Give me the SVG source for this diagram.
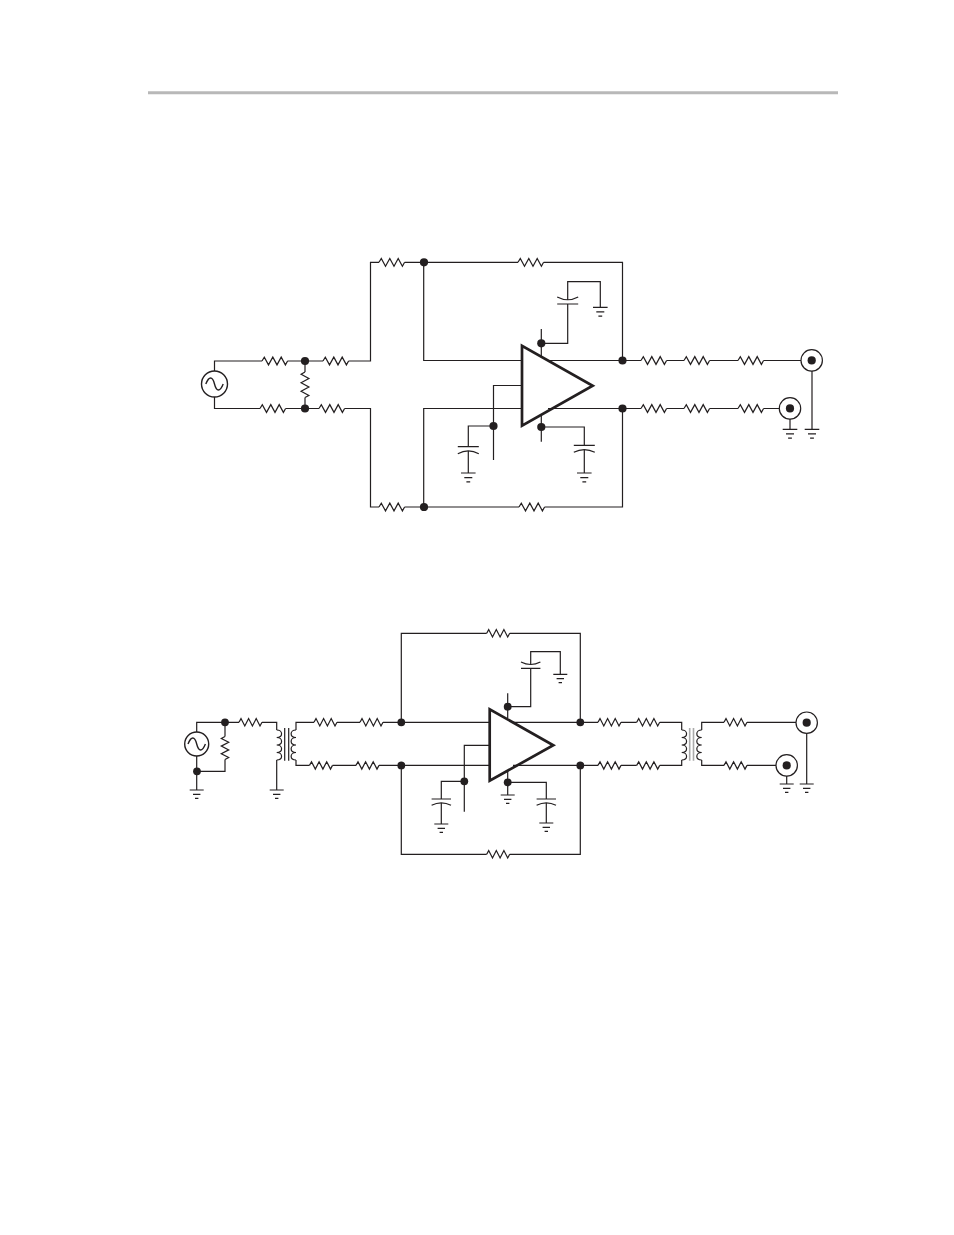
<svg xmlns="http://www.w3.org/2000/svg" width="954" height="1235" viewBox="0 0 954 1235">
<style>
.w,.s{fill:none;stroke:#231f20;stroke-width:1.2;stroke-linejoin:miter}
.amp{fill:none;stroke:#231f20;stroke-width:2.7;stroke-linejoin:miter}
.t{fill:none;stroke:#231f20;stroke-width:1.4}
.d{fill:#231f20;stroke:none}
.g{fill:none;stroke:#aaaaaa;stroke-width:1.6}
</style>
<defs>
<path id="rh" class="s" d="M0 0L2.3-3.9 6.5 3.9 10.8-3.9 15 3.9 19.2-3.9 23.4 3.9 25.6 0"/>
<path id="rh2" class="s" d="M0 0L2-3.7 5.8 3.7 9.6-3.7 13.4 3.7 17.2-3.7 21 3.7 23 0"/>
<path id="rv2" class="s" d="M0 0L-3.7 2 3.7 5.8-3.7 9.6 3.7 13.4-3.7 17.2 3.7 21 0 23"/>
<path id="rv" class="s" d="M0 0L-3.9 2.3 3.9 6.5-3.9 10.8 3.9 15-3.9 19.2 3.9 23.4 0 25.6"/>
<g id="gnd"><path class="s" d="M-7.3 0H7.3M-4 4.6H4M-1.9 8.9H1.9"/></g>
<g id="gnd2"><path class="s" d="M-7 0H7M-3.7 4.3H3.7M-1.7 8.3H1.7"/></g>
<g id="capU"><path class="s" d="M-10.5 0H10.5M-10.5 7Q0 1.5 10.5 7"/></g>
<g id="capD"><path class="s" d="M-10.5 0H10.5M-10.5-7Q0-1.5 10.5-7"/></g>
<g id="capU2"><path class="s" d="M-9.7 0H9.7M-9.7 6.3Q0 1.3 9.7 6.3"/></g>
<g id="capD2"><path class="s" d="M-9.7 0H9.7M-9.7-6.3Q0-1.3 9.7-6.3"/></g>
<path id="coilR" class="s" d="M0 0C6.5 0 6.5 7.5 0 7.5C6.5 7.5 6.5 15 0 15C6.5 15 6.5 22.5 0 22.5C6.5 22.5 6.5 30 0 30"/>
<path id="coilL" class="s" d="M0 0C-6.5 0-6.5 7.5 0 7.5C-6.5 7.5-6.5 15 0 15C-6.5 15-6.5 22.5 0 22.5C-6.5 22.5-6.5 30 0 30"/>
<g id="src"><circle class="t" r="13"/><path class="t" d="M-8.7 0C-5.5-8-2-8 0 0S5.5 8 8.7 0"/></g>
<g id="src2"><circle class="t" r="12"/><path class="t" d="M-8.7 0C-5.5-8-2-8 0 0S5.5 8 8.7 0"/></g>
<g id="bnc"><circle class="s" r="10.7"/><circle class="d" r="4.1"/></g>
<circle id="dot" class="d" r="4.1"/>
<circle id="dot2" class="d" r="3.9"/>
</defs>
<rect width="954" height="1235" fill="#ffffff"/>
<path id="page-rule" d="M148 92.7H838" fill="none" stroke="#b8b8b8" stroke-width="3"/>

<g id="connectors">
<g id="connectors-top">
<path class="w" d="M214.5 371V361H262M287.5 361H323M348.6 361H370.5V262.3H379M404.6 262.3H518M543.6 262.3H622.5V360.5"/>
<path class="w" d="M214.5 397V408.5H260M285.6 408.5H319M344.6 408.5H370.5V507H379M404.6 507H519M544.6 507H622.5V408.5"/>
<path class="w" d="M305 361V372M305 397.6V408.5"/>
<path class="w" d="M423.7 262.3V360.5H522M423.7 507V408.5H522M493.5 460V385.5H522"/>
<path class="w" d="M493.5 426H468.3V446.7M468.3 451V473"/>
<path class="w" d="M541.3 329V356M541.3 343.3H567.7V304M567.7 300V281.7H600.3V307.3"/>
<path class="w" d="M541.3 415V441.7M541.3 427H584.3V445.3M584.3 450V473"/>
<path class="w" d="M548 360.5H641M666.6 360.5H684M709.6 360.5H738M763.6 360.5H801M548 408.5H641M666.6 408.5H684M709.6 408.5H738M763.6 408.5H779.5"/>
<path class="w" d="M812 371V429.3M790 419V429.3"/>
</g>
<g id="connectors-bottom">
<path class="w" d="M196.7 732V722.3H239M262 722.3H276.7V730M225 722.3V736.5M225 759.5V771.3H197M196.7 756V790M276.7 760V790"/>
<path class="w" d="M296 730V722.3H314M337 722.3H360M383 722.3H490M296 760V765.4H309.5M332.5 765.4H356M379 765.4H490"/>
<path class="w" d="M401.3 722.3V633.3H486.7M509.7 633.3H580.3V722.3M401.3 765.4V854.3H486.7M509.7 854.3H580.3V765.4"/>
<path class="w" d="M464.3 811.7V745.3H490M464.3 781.3H441.3V799M441.3 803V824"/>
<path class="w" d="M507.7 693.3V718M507.7 706.7H530.7V668.3M530.7 664.5V651.7H560.3V674.3"/>
<path class="w" d="M507.7 772V795M507.7 782.3H546.3V799M546.3 803V823"/>
<path class="w" d="M513 722.3H598M621 722.3H636.7M659.7 722.3H681.7V730M513 765.4H598M621 765.4H636.7M659.7 765.4H681.7V760"/>
<path class="w" d="M701.7 730V722.3H724M747 722.3H796M701.7 760V765.4H724M747 765.4H776"/>
<path class="w" d="M806.7 733.4V784M786.7 776V784"/>
</g>
</g>

<g id="top-source"><use href="#src" x="214.5" y="384"/></g>
<g id="R1"><use href="#rh" x="262" y="361"/></g>
<g id="R2"><use href="#rh" x="323" y="361"/></g>
<g id="R3"><use href="#rh" x="260" y="408.5"/></g>
<g id="R4"><use href="#rh" x="319" y="408.5"/></g>
<g id="R5"><use href="#rv" x="305" y="372"/></g>
<g id="R6"><use href="#rh" x="379" y="262.3"/></g>
<g id="R7"><use href="#rh" x="518" y="262.3"/></g>
<g id="R8"><use href="#rh" x="379" y="507"/></g>
<g id="R9"><use href="#rh" x="519" y="507"/></g>
<g id="R10"><use href="#rh" x="641" y="360.5"/></g>
<g id="R11"><use href="#rh" x="684" y="360.5"/></g>
<g id="R12"><use href="#rh" x="738" y="360.5"/></g>
<g id="R13"><use href="#rh" x="641" y="408.5"/></g>
<g id="R14"><use href="#rh" x="684" y="408.5"/></g>
<g id="R15"><use href="#rh" x="738" y="408.5"/></g>
<g id="top-amp"><path class="amp" d="M522 345.7V425.7L592.7 385.7Z"/></g>
<g id="C1"><use href="#capD" x="567.7" y="304"/></g>
<g id="C2"><use href="#capU" x="584.3" y="445.3"/></g>
<g id="C3"><use href="#capU" x="468.3" y="446.7"/></g>
<g id="top-grounds">
<use href="#gnd" x="600.3" y="307.3"/><use href="#gnd" x="584.3" y="473"/><use href="#gnd" x="468.3" y="473"/><use href="#gnd" x="790" y="429.3"/><use href="#gnd" x="812" y="429.3"/>
</g>
<g id="J1"><use href="#bnc" x="811.7" y="360.4"/></g>
<g id="J2"><use href="#bnc" x="790" y="408.4"/></g>
<g id="top-dots">
<use href="#dot" x="305" y="361"/><use href="#dot" x="305" y="408.5"/><use href="#dot" x="424" y="262.3"/><use href="#dot" x="424" y="507"/><use href="#dot" x="622.5" y="360.5"/><use href="#dot" x="622.5" y="408.5"/><use href="#dot" x="493.5" y="426"/><use href="#dot" x="541.3" y="343.3"/><use href="#dot" x="541.3" y="427"/>
</g>

<g id="bottom-source"><use href="#src2" x="196.7" y="744"/></g>
<g id="R21"><use href="#rh2" x="239" y="722.3"/></g>
<g id="R22"><use href="#rv2" x="225" y="736.5"/></g>
<g id="T1">
<use href="#coilR" x="276.7" y="730"/><use href="#coilL" x="296" y="730"/>
<path class="s" d="M284.7 728V760.7M288.7 728V760.7"/>
</g>
<g id="R23"><use href="#rh2" x="314" y="722.3"/></g>
<g id="R24"><use href="#rh2" x="360" y="722.3"/></g>
<g id="R25"><use href="#rh2" x="309.5" y="765.4"/></g>
<g id="R26"><use href="#rh2" x="356" y="765.4"/></g>
<g id="R27"><use href="#rh2" x="486.7" y="633.3"/></g>
<g id="R28"><use href="#rh2" x="486.7" y="854.3"/></g>
<g id="R29"><use href="#rh2" x="598" y="722.3"/></g>
<g id="R30"><use href="#rh2" x="636.7" y="722.3"/></g>
<g id="R31"><use href="#rh2" x="598" y="765.4"/></g>
<g id="R32"><use href="#rh2" x="636.7" y="765.4"/></g>
<g id="R33"><use href="#rh2" x="724" y="722.3"/></g>
<g id="R34"><use href="#rh2" x="724" y="765.4"/></g>
<g id="bottom-amp"><path class="amp" d="M489.7 709.3V780.7L553.3 745.3Z"/></g>
<g id="T2">
<use href="#coilR" x="681.7" y="730"/><use href="#coilL" x="701.7" y="730"/>
<path class="g" d="M689.7 728V760.7M693.5 728V760.7"/>
</g>
<g id="C4"><use href="#capD2" x="530.7" y="668.3"/></g>
<g id="C5"><use href="#capU2" x="546.3" y="799"/></g>
<g id="C6"><use href="#capU2" x="441.3" y="799"/></g>
<g id="bottom-grounds">
<use href="#gnd2" x="196.7" y="790"/><use href="#gnd2" x="276.7" y="790"/><use href="#gnd2" x="441.3" y="824"/><use href="#gnd2" x="507.7" y="795"/><use href="#gnd2" x="546.3" y="823"/><use href="#gnd2" x="560.3" y="674.3"/><use href="#gnd2" x="786.7" y="784"/><use href="#gnd2" x="806.7" y="784"/>
</g>
<g id="J3"><use href="#bnc" x="806.7" y="722.7"/></g>
<g id="J4"><use href="#bnc" x="786.7" y="765.4"/></g>
<g id="bottom-dots">
<use href="#dot2" x="225" y="722.3"/><use href="#dot2" x="197" y="771.3"/><use href="#dot2" x="401.3" y="722.3"/><use href="#dot2" x="401.3" y="765.4"/><use href="#dot2" x="580.3" y="722.3"/><use href="#dot2" x="580.3" y="765.4"/><use href="#dot2" x="464.3" y="781.3"/><use href="#dot2" x="507.7" y="706.7"/><use href="#dot2" x="507.7" y="782.3"/>
</g>
</svg>
